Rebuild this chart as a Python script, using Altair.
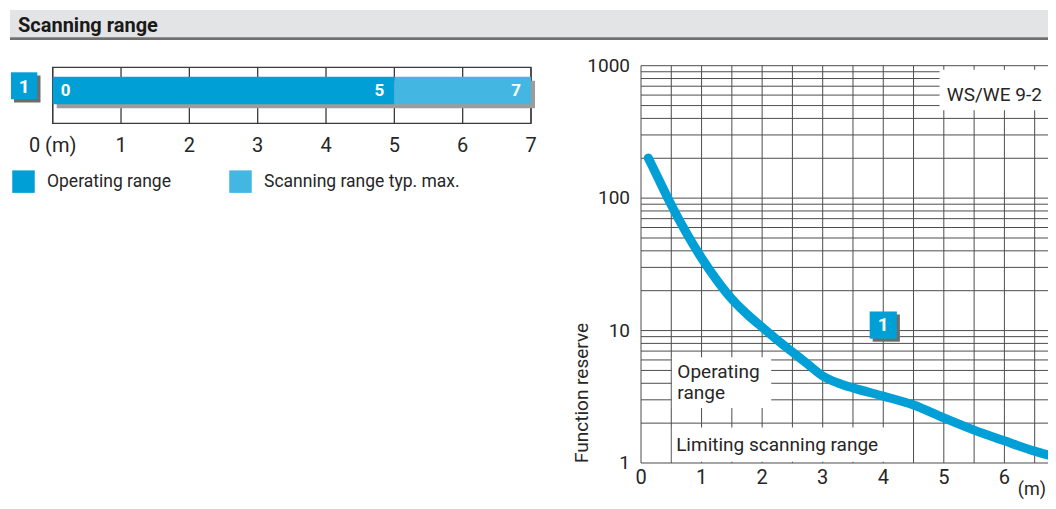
import altair as alt
import pandas as pd

# ---------------- data ----------------
bar_segments = ["Operating range", "Scanning range typ. max."]
bar_start = [0, 5]
bar_end = [5, 7]
bar_ticks = [0, 1, 2, 3, 4, 5, 6, 7]
bar_tick_labels = ["0 (m)", "1", "2", "3", "4", "5", "6", "7"]
bar_value_pos = [0, 5, 7]
bar_value_labels = ["0", "5", "7"]

curve_x = [0.12, 0.25, 0.5, 0.75, 1.0, 1.25, 1.5, 1.75, 2.0, 2.25, 2.5, 2.75, 3.0,
           3.25, 3.5, 4.0, 4.5, 5.0, 5.5, 6.0, 6.5, 6.72]
curve_y = [201, 152, 88.8, 54.5, 35.3, 24.1, 17.3, 13.3, 10.6, 8.49, 6.89, 5.59, 4.54,
           4.02, 3.69, 3.2, 2.74, 2.19, 1.77, 1.47, 1.23, 1.15]

reserve_ticks = [1, 10, 100, 1000]
reserve_labels = ["1", "10", "100", "1000"]
distance_ticks = [0, 1, 2, 3, 4, 5, 6]
distance_labels = ["0", "1", "2", "3", "4", "5", "6"]
grid_reserve = [m * 10 ** e for e in range(3) for m in range(1, 10)] + [1000]
grid_distance = [i / 2 for i in range(14)]
x_max = 6.72

# ---------------- layout / style ----------------
W, H = 1040, 493
BLUE = "#009fd6"
LIGHT = "#43b6e2"
GRID = "#4d4d4d"
TXT = "#262626"
FONT = "Roboto"

# ---------------- header band ----------------
one = pd.DataFrame({"t": ["Scanning range"]})
band = alt.Chart(one).mark_rect(color="#e3e4e5").encode(
    x=alt.value(2), x2=alt.value(W), y=alt.value(2), y2=alt.value(29.5))
band_line = alt.Chart(one).mark_rule(color="#707070", strokeWidth=2.7).encode(
    x=alt.value(2), x2=alt.value(W), y=alt.value(30.7))
band_text = alt.Chart(one).mark_text(
    align="left", baseline="middle", font=FONT, fontSize=20, fontWeight="bold",
    color="#1a1a1a").encode(x=alt.value(10), y=alt.value(17.5), text="t:N")
header = alt.layer(band, band_line, band_text)

# ---------------- left: scanning range bar ----------------
XB = alt.Scale(domain=[0, 7], range=[44.7, 523], nice=False, zero=False)
BOX_T, BOX_B = 59.3, 115.3
BAR_T, BAR_B = 68.7, 96.3

seg_df = pd.DataFrame({"segment": bar_segments, "start": bar_start, "end": bar_end})
frame_df = pd.DataFrame({"start": [bar_ticks[0]], "end": [bar_ticks[-1]]})
tick_df = pd.DataFrame({"tick": bar_ticks, "label": bar_tick_labels})
vlab_df = pd.DataFrame({"pos": bar_value_pos, "label": bar_value_labels})

frame = alt.Chart(frame_df).mark_rect(fill="white", stroke="#3a3a3a", strokeWidth=1.3).encode(
    x=alt.X("start:Q", scale=XB, axis=None), x2="end:Q",
    y=alt.value(BOX_T), y2=alt.value(BOX_B))

tick_rules = alt.Chart(tick_df).mark_rule(color="#3a3a3a", strokeWidth=1.3).encode(
    x=alt.X("tick:Q", scale=XB, axis=None), y=alt.value(BOX_T), y2=alt.value(BOX_B))

tick_text = alt.Chart(tick_df).mark_text(
    align="center", baseline="middle", font=FONT, fontSize=20, color=TXT).encode(
    x=alt.X("tick:Q", scale=XB, axis=None), y=alt.value(138), text="label:N")

bar_shadow = alt.Chart(frame_df).mark_rect(
    color="#9c9c9c", xOffset=4, x2Offset=4, yOffset=4, y2Offset=4).encode(
    x=alt.X("start:Q", scale=XB, axis=None), x2="end:Q",
    y=alt.value(BAR_T), y2=alt.value(BAR_B))

bars = alt.Chart(seg_df).mark_rect().encode(
    x=alt.X("start:Q", scale=XB, axis=None), x2="end:Q",
    y=alt.value(BAR_T), y2=alt.value(BAR_B),
    color=alt.Color("segment:N", scale=alt.Scale(domain=bar_segments, range=[BLUE, LIGHT]),
                    legend=alt.Legend(orient="none", legendX=4, legendY=162,
                                      direction="horizontal", title=None,
                                      symbolType="square", symbolSize=506,
                                      symbolStrokeWidth=0, symbolOpacity=1,
                                      labelFont=FONT, labelFontSize=17.5,
                                      labelColor=TXT, labelOffset=12, labelLimit=400,
                                      columnPadding=58, padding=0)))

lab_start = alt.Chart(vlab_df).transform_filter("datum.pos == 0").mark_text(
    align="left", baseline="middle", dx=8, font=FONT, fontSize=17, fontWeight="bold",
    color="white").encode(x=alt.X("pos:Q", scale=XB, axis=None),
                          y=alt.value((BAR_T + BAR_B) / 2), text="label:N")
lab_end = alt.Chart(vlab_df).transform_filter("datum.pos > 0").mark_text(
    align="right", baseline="middle", dx=-10, font=FONT, fontSize=17, fontWeight="bold",
    color="white").encode(x=alt.X("pos:Q", scale=XB, axis=None),
                          y=alt.value((BAR_T + BAR_B) / 2), text="label:N")

badge_df = pd.DataFrame({"t": ["1"]})
badge_sh = alt.Chart(badge_df).mark_rect(color="#6c6c6c").encode(
    x=alt.value(6), x2=alt.value(32.5), y=alt.value(67.5), y2=alt.value(94.5))
badge = alt.Chart(badge_df).mark_rect(color=BLUE).encode(
    x=alt.value(3), x2=alt.value(29.3), y=alt.value(64.3), y2=alt.value(91.3))
badge_t = alt.Chart(badge_df).mark_text(
    font=FONT, fontSize=19, fontWeight="bold", color="white", baseline="middle").encode(
    x=alt.value(16.2), y=alt.value(78.5), text="t:N")

left = alt.layer(frame, tick_rules, tick_text, bar_shadow, bars, lab_start, lab_end,
                 badge_sh, badge, badge_t)

# ---------------- right: function reserve ----------------
XR = alt.Scale(domain=[0, x_max], range=[633, W], nice=False, zero=False)
YR = alt.Scale(type="log", domain=[1, 1000], range=[455, 57.7], nice=False)

hdf = pd.DataFrame({"v": grid_reserve, "a": 0.0, "b": x_max})
vdf = pd.DataFrame({"x": grid_distance, "lo": 1, "hi": 1000})

hgrid = alt.Chart(hdf).mark_rule(color=GRID, strokeWidth=1).encode(
    x=alt.X("a:Q", scale=XR, axis=None), x2="b:Q",
    y=alt.Y("v:Q", scale=YR, axis=None))

vgrid = alt.Chart(vdf).mark_rule(color=GRID, strokeWidth=1).encode(
    x=alt.X("x:Q", scale=XR, axis=None),
    y=alt.Y("lo:Q", scale=YR, axis=None), y2="hi:Q")

xlab_df = pd.DataFrame({"d": distance_ticks, "r": reserve_ticks[0], "t": distance_labels})
xlabels = alt.Chart(xlab_df).mark_text(
    align="center", baseline="middle", dy=15, font=FONT, fontSize=20, color=TXT).encode(
    x=alt.X("d:Q", scale=XR, axis=None), y=alt.Y("r:Q", scale=YR, axis=None), text="t:N")

ylab_df = pd.DataFrame({"d": distance_ticks[0], "r": reserve_ticks, "t": reserve_labels})
ylabels = alt.Chart(ylab_df).mark_text(
    align="right", baseline="middle", dx=-11, font=FONT, fontSize=19, color=TXT).encode(
    x=alt.X("d:Q", scale=XR, axis=None), y=alt.Y("r:Q", scale=YR, axis=None), text="t:N")

titles_df = pd.DataFrame({"yt": ["Function reserve"], "xt": ["(m)"]})
ytitle = alt.Chart(titles_df).mark_text(
    angle=270, align="left", baseline="middle", font=FONT, fontSize=19, color=TXT).encode(
    x=alt.value(573.7), y=alt.value(455), text="yt:N")
xtitle = alt.Chart(titles_df).mark_text(
    align="right", baseline="middle", font=FONT, fontSize=18, color=TXT).encode(
    x=alt.value(W - 2), y=alt.value(482), text="xt:N")

box_df = pd.DataFrame({
    "x0": [4.93, 0.51, 0.51], "x1": [x_max, 2.15, 4.49],
    "y0": [460, 2.6, 1.02], "y1": [930, 6.3, 1.85]})
boxes = alt.Chart(box_df).mark_rect(color="white").encode(
    x=alt.X("x0:Q", scale=XR, axis=None), x2="x1:Q",
    y=alt.Y("y0:Q", scale=YR, axis=None), y2="y1:Q")

note_df = pd.DataFrame({
    "t": ["WS/WE 9-2", "Operating", "range", "Limiting scanning range"],
    "x": [5.05, 0.6, 0.6, 0.58], "y": [600, 4.87, 3.38, 1.37]})
notes = alt.Chart(note_df).mark_text(
    align="left", baseline="middle", font=FONT, fontSize=19, color=TXT).encode(
    x=alt.X("x:Q", scale=XR, axis=None), y=alt.Y("y:Q", scale=YR, axis=None), text="t:N")

curve_df = pd.DataFrame({"d": curve_x, "r": curve_y})
curve = alt.Chart(curve_df).mark_line(
    color=BLUE, strokeWidth=9, strokeCap="round", interpolate="monotone").encode(
    x=alt.X("d:Q", scale=XR, axis=None), y=alt.Y("r:Q", scale=YR, axis=None))

rb_df = pd.DataFrame({"x": [4.0], "y": [11.0], "t": ["1"]})
rbadge_sh = alt.Chart(rb_df).mark_square(size=740, color="#6c6c6c", opacity=1,
                                          xOffset=3, yOffset=3).encode(
    x=alt.X("x:Q", scale=XR, axis=None), y=alt.Y("y:Q", scale=YR, axis=None))
rbadge = alt.Chart(rb_df).mark_square(size=740, color=BLUE, opacity=1).encode(
    x=alt.X("x:Q", scale=XR, axis=None), y=alt.Y("y:Q", scale=YR, axis=None))
rbadge_t = alt.Chart(rb_df).mark_text(
    font=FONT, fontSize=19, fontWeight="bold", color="white", baseline="middle").encode(
    x=alt.X("x:Q", scale=XR, axis=None), y=alt.Y("y:Q", scale=YR, axis=None), text="t:N")

right = alt.layer(hgrid, vgrid, boxes, notes, xlabels, ylabels, ytitle, xtitle,
                  curve, rbadge_sh, rbadge, rbadge_t)

chart = alt.layer(header, left, right).resolve_scale(
    x="independent", y="independent", color="independent"
).properties(
    width=W, height=H, padding=0, autosize=alt.AutoSizeParams(type="none")
).configure_view(stroke=None)

chart.save("out.html", embed_options={"renderer": "svg", "actions": False})
